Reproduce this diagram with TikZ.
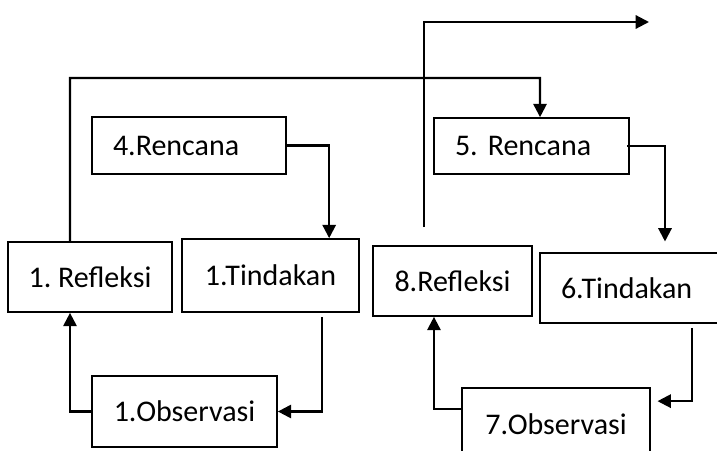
\documentclass[tikz,border=0pt]{standalone}
\usepackage{fontspec}
\setmainfont{Carlito}
\usetikzlibrary{positioning, arrows.meta}

\begin{document}
\begin{tikzpicture}[x=0.75pt, y=-0.75pt]
  \tikzset{
    kotak/.style={
      draw,
      line width=1.3pt,
      anchor=center,
      font=\fontsize{22.5}{26}\selectfont\frenchspacing,
      fill=white
    },
    kotakkiri/.style={
      kotak,
      inner xsep=15.75pt,
      text width=#1,
      align=left
    },
    panah/.style={
      line width=1.6pt,
      -{Triangle[length=10pt,width=10pt]}
    }
  }
  \clip (0,0) rectangle (717,450);

  % Siklus pertama
    \node[kotak, minimum width=123pt, minimum height=52.5pt] at (90,277) (ref1) {1. Refleksi};
    \node[kotak, minimum width=132.75pt, minimum height=54.75pt] at (270.5,275.5) (tin1) {1.Tindakan};
    \node[kotakkiri=114pt, minimum height=42.75pt] at (189,145.5) (ren4) {4.Rencana};
    \node[kotak, minimum width=138.75pt, minimum height=53.25pt] at (184.5,411.5) (obs1) {1.Observasi};

  % Siklus kedua
    \node[kotak, minimum width=119.25pt, minimum height=52.5pt] at (452.5,281) (ref8) {8.Refleksi};
    \node[kotakkiri=118.5pt, minimum height=52.5pt] at (640,288) (tin6) {6.Tindakan};
    \node[kotakkiri=114.75pt, minimum height=42pt] at (531.5,146) (ren5) {5. Rencana};
    \node[kotak, minimum width=141pt, minimum height=54pt] at (556,424) (obs7) {7.Observasi};

  \coordinate (atas1) at (540,78);
  \coordinate (keluar) at (649,22);

  % Panah
    \draw[panah] (ren4.east) -| ([xshift=44pt]tin1.north);
    \draw[panah] ([xshift=38.6pt,yshift=-3pt]tin1.south) |- (obs1.east);
    \draw[panah] (obs1.west) -| ([xshift=-15pt]ref1.south);
    \draw[panah] ([xshift=-15pt]ref1.north) |- (atas1) -- ([xshift=6.4pt]ren5.north);
    \draw[panah, shorten >=8pt] ([xshift=-2pt]ren5.east) -| ([xshift=18.75pt]tin6.north);
    \draw[panah] ([xshift=39pt,yshift=-3pt]tin6.south) |- ([xshift=5pt,yshift=-10.5pt]obs7.north east);
    \draw[panah] ([yshift=-16.5pt]obs7.north west) -| ([xshift=-13.9pt]ref8.south);
    \draw[panah] ([xshift=-21.4pt,yshift=13.5pt]ref8.north) |- (keluar);

\end{tikzpicture}
\end{document}
